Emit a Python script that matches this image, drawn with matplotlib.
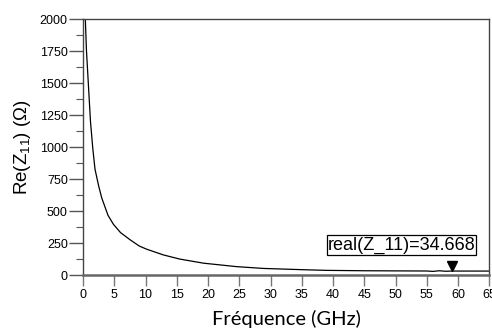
import matplotlib
matplotlib.use("Agg")
import matplotlib.pyplot as plt
from matplotlib.transforms import offset_copy
from matplotlib.ticker import MultipleLocator

# valeurs
freq_ghz = [0.3, 0.55, 0.85, 1.2, 1.55, 1.92, 2.5, 3.0, 4.0, 4.86, 6.0, 7.5,
            9.0, 10.2, 12.9, 15.5, 19.3, 24.6, 28.9, 35.3, 39.0, 45.0, 50.0,
            55.0, 56.0, 57.0, 58.0, 59.1, 62.0, 65.0]
re_z11 = [2100, 1760, 1500, 1200, 1000, 830, 700, 605, 470, 400, 335, 280,
          230, 205, 160, 128, 96, 69, 55, 45, 40, 37, 36,
          35, 32, 37, 33, 34.668, 34.5, 34.5]

marker_f = 59.1
marker_val = 34.668
marker_text = "real(Z_11)=34.668"

x_ticks = list(range(0, 70, 5))

plt.rcParams['font.family'] = ['Liberation Sans', 'DejaVu Sans']

fig = plt.figure(figsize=(4.92, 3.31), dpi=100)
ax = fig.add_axes([0.1687, 0.1677, 0.8258, 0.774])

ax.plot(freq_ghz, re_z11, color='black', lw=0.9, clip_on=True)

tr = offset_copy(ax.transData, fig=fig, y=5, units='dots')
ax.plot([marker_f], [marker_val], marker='v', color='black', ms=6.5,
        transform=tr, clip_on=False)
ax.text(0.784, 0.119, marker_text, transform=ax.transAxes, ha='center',
        va='center', fontsize=13,
        bbox=dict(facecolor='white', edgecolor='black', lw=0.9, pad=0.8))

ax.set_xlim(0, 65)
ax.set_ylim(0, 2000)
ax.set_xticks(x_ticks)
ax.yaxis.set_major_locator(MultipleLocator(250))
ax.yaxis.set_minor_locator(MultipleLocator(125))

for s in ['top', 'right', 'left']:
    ax.spines[s].set_color('#444444')
    ax.spines[s].set_linewidth(1.0)
ax.spines['bottom'].set_color('#666666')
ax.spines['bottom'].set_linewidth(1.8)

ax.tick_params(axis='x', direction='out', length=8, width=1.0,
               color='#777777', labelsize=9, pad=2)
ax.tick_params(axis='y', which='major', direction='out', length=10,
               width=1.0, color='#555555', labelsize=9, pad=1)
ax.tick_params(axis='y', which='minor', direction='out', length=5,
               width=0.8, color='#555555')

ax.set_ylabel("Re(Z$\\mathregular{_{11}}$) (Ω)", fontsize=13.5, labelpad=5)
ax.set_xlabel("Fréquence (GHz)", fontsize=14.5, family=['Lato', 'DejaVu Sans'],
              labelpad=6)

fig.savefig("out.png", dpi=100)
